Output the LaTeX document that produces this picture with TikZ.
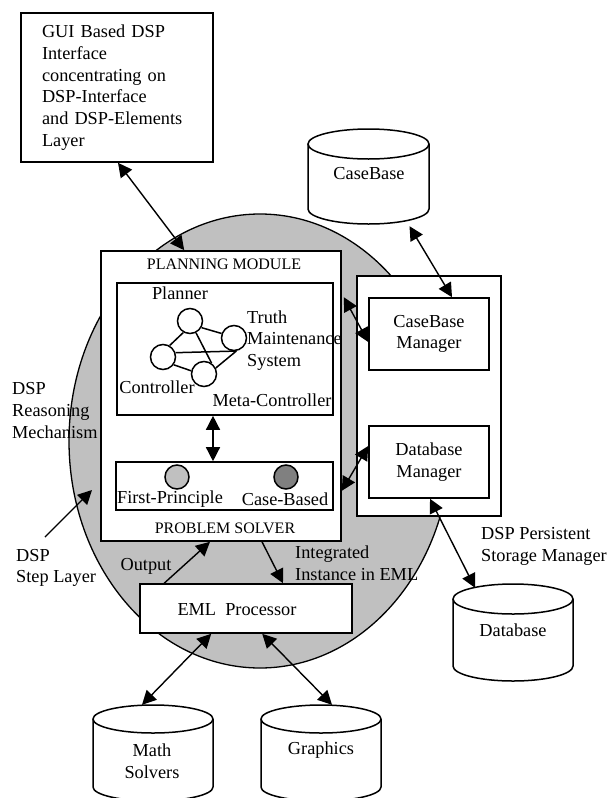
\documentclass[tikz,border=0pt]{standalone}
\usepackage{fontspec}
\setmainfont{Liberation Serif}
\usetikzlibrary{arrows.meta,shapes.geometric,calc}
\definecolor{shade}{RGB}{192,192,192}
\definecolor{darkshade}{RGB}{128,128,128}
\newcommand\dbcyl[6]{%
  \node[inner sep=0pt,minimum width={2*#5pt},minimum height={(#4-#3)*1pt}] (#1) at (#2,{(#3+#4)/2}) {};
  \draw[cyl] (#2-#5,#3+#6) -- (#2-#5,#4-#6) arc[start angle=180,end angle=0,x radius=#5,y radius=#6] -- (#2+#5,#3+#6);
  \draw[cyl] (#2,#3+#6) ellipse[x radius=#5,y radius=#6];
}
\begin{document}
\begin{tikzpicture}[x=1pt,y=-1pt,
  font=\fontsize{18.3}{21.7}\selectfont,
  box/.style={draw,line width=1.6pt,fill=white,inner sep=0pt,align=center},
  lbl/.style={inner sep=0pt,align=center},
  lbll/.style={inner sep=0pt,align=left,anchor=west},
  small/.style={font=\fontsize{16}{19}\selectfont},
  conn/.style={line width=1.4pt,>={Triangle[length=14pt,width=14pt]}},
  ball/.style={circle,draw,line width=1.5pt,minimum size=25pt,inner sep=0pt},
  edge/.style={line width=1.5pt},
  cyl/.style={line width=1.5pt,fill=white}]
\useasboundingbox (0,0) rectangle (608,798);
\fill[white] (0,0) rectangle (608,798);

% reasoning mechanism (grey ellipse)
\node[ellipse,draw,line width=1.3pt,fill=shade,minimum width=382pt,minimum height=454pt,inner sep=0pt] (mech) at (260,441) {};

% GUI box
\node[box,minimum width=192pt,minimum height=149pt,text width=150pt,align=left] (gui) at (117,87.5)
  {GUI Based DSP\\Interface\\concentrating on\\DSP-Interface\\and DSP-Elements\\Layer};

% planning module
\node[box,minimum width=240pt,minimum height=290pt] (pm) at (221,396) {};
\node[lbl,small] (pmt) at (224,264) {PLANNING MODULE};
\node[box,minimum width=216pt,minimum height=132pt] (pl) at (225,349) {};
\node[box,minimum width=217pt,minimum height=48pt] (ps) at (224.5,486) {};
\node[lbl,small] (pst) at (225,528) {PROBLEM SOLVER};

% planner network
\node[ball] (P) at (190,321) {};
\node[ball] (T) at (234,338) {};
\node[ball] (C) at (163,357) {};
\node[ball] (M) at (204,374) {};
\draw[edge] (P.-30) -- (T.160);
\draw[edge] (P.-120) -- (C.60);
\draw[edge] (P.-63) -- (M.55);
\draw[edge] (C.19) -- (T.-80);
\draw[edge] (C.-36) -- (M.166);
\draw[edge] (T.-80) -- (M.27);
\node[lbl] (Pt) at (180,293) {Planner};
\node[lbll] (Tt) at (247,340.5) {Truth\\Maintenance\\System};
\node[lbl] (Ct) at (157,387) {Controller};
\node[lbl] (Mt) at (272,400) {Meta-Controller};

% problem solver
\node[ball,minimum size=24pt,fill=shade] (fp) at (177,477) {};
\node[ball,minimum size=24pt,fill=darkshade] (cbb) at (286,477) {};
\node[lbl] (fpt) at (170,499) {First-Principle};
\node[lbl] (cbt) at (285,499) {Case-Based};

% storage manager
\node[box,minimum width=144pt,minimum height=240pt] (st) at (429,396) {};
\node[box,minimum width=120pt,minimum height=72pt] (cbm) at (429,334) {CaseBase\\Manager};
\node[box,minimum width=120pt,minimum height=72pt] (dbm) at (429,462) {Database\\Manager};

% EML processor
\node[box,minimum width=212pt,minimum height=49pt] (eml) at (246,608.5) {};
\node[lbl] (emlt) at (237,610) {EML\ \ Processor};

% cylinders
\dbcyl{cb}{368.5}{129}{224}{60.5}{15}
\node[lbl] (cbl) at (369,174) {CaseBase};
\dbcyl{db}{513}{584}{681}{60}{15}
\node[lbl] (dbl) at (513,630) {Database};
\dbcyl{ms}{153}{705}{801}{60}{14}
\node[lbl] (msl) at (152,761.5) {Math\\Solvers};
\dbcyl{gr}{321}{705}{801}{60}{14}
\node[lbl] (grl) at (321,750) {Graphics};

% free labels
\node[lbll] (mechlbl) at (12,410.5) {DSP\\Reasoning\\Mechanism};
\node[lbll] (steplbl) at (16,568) {DSP\\Step Layer};
\node[lbl] (outlbl) at (146,566) {Output};
\node[lbll] (intlbl) at (295,563.5) {Integrated\\Instance in EML};
\node[lbll] (pslbl) at (481,546.5) {DSP Persistent\\Storage Manager};

% connectors
\draw[conn,<->] ([xshift=1pt]gui.south) -- ($(pm.north west)+(84,0)$);
\draw[conn,<->] ($(pl.south)+(-12,0)$) -- ($(ps.north)+(-11.5,0)$);
\draw[conn,<->] ($(pm.north east)+(2,47)$) -- ($(cbm.west)+(0,8)$);
\draw[conn,<->] ($(dbm.west)+(0,-16)$) -- ($(pm.south east)+(0,-51)$);
\draw[conn,<->] ($(cb.south)+(41,2)$) -- ($(cbm.north)+(23,0)$);
\draw[conn,<->] ($(dbm.south)+(1,0)$) -- ($(db.north)+(-38,4)$);
\draw[conn,->] ($(eml.north west)+(25,0)$) -- ($(pm.south)+(-11,0)$);
\draw[conn,->] ($(pm.south)+(41,0)$) -- ($(eml.north)+(37,0)$);
\draw[conn,<->] ($(eml.south west)+(72,0)$) -- ($(ms.north)+(-11,0)$);
\draw[conn,<->] ($(eml.south west)+(123,0)$) -- ($(gr.north)+(11,0)$);
\coordinate (stepfrom) at (45,537);
\coordinate (stepto) at (92,490);
\draw[conn,->] (stepfrom) -- (stepto);
\end{tikzpicture}
\end{document}
